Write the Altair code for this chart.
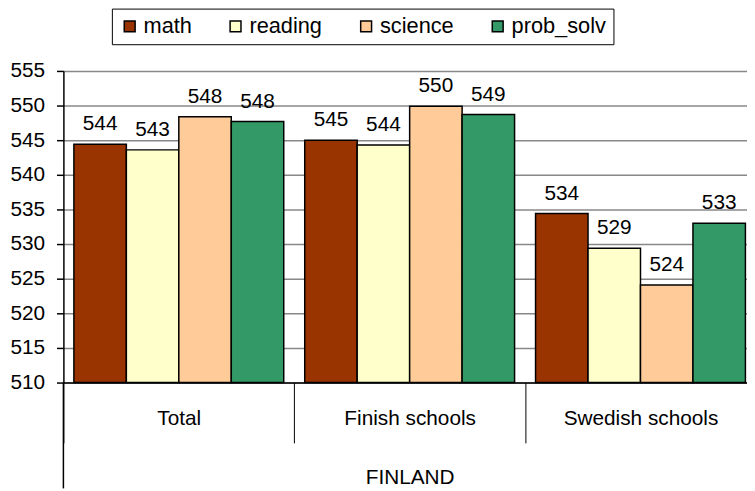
import altair as alt
import pandas as pd

groups = ["Total", "Finish schools", "Swedish schools"]
subjects = ["math", "reading", "science", "prob_solv"]
total_vals = [544.4, 543.6, 548.4, 547.7]
finish_vals = [545.0, 544.3, 549.9, 548.7]
swedish_vals = [534.4, 529.4, 524.1, 533.0]
total_labels = ["544", "543", "548", "548"]
finish_labels = ["545", "544", "550", "549"]
swedish_labels = ["534", "529", "524", "533"]
colors = ["#993300", "#FFFFCC", "#FFCC99", "#339966"]
y_ticks = [510, 515, 520, 525, 530, 535, 540, 545, 550, 555]

rows = []
for g, vals, labs in zip(groups, [total_vals, finish_vals, swedish_vals],
                         [total_labels, finish_labels, swedish_labels]):
    for s, v, l in zip(subjects, vals, labs):
        rows.append({"group": g, "subject": s, "value": v, "label": l})
df = pd.DataFrame(rows)

FONT = "Liberation Sans"
FS = 21

x_axis = alt.Axis(
    title="FINLAND",
    titleFontSize=FS,
    titleFontWeight="normal",
    titleFont=FONT,
    titleColor="black",
    titleY=96,
    titleBaseline="middle",
    labelFontSize=FS,
    labelFont=FONT,
    labelColor="black",
    labelAngle=0,
    labelBaseline="middle",
    labelPadding=-25,
    tickBand="extent",
    tickSize=61,
    tickColor="black",
    tickWidth=1,
    domainColor="black",
    domainWidth=1.5,
    grid=False,
)
x_enc = alt.X(
    "group:N",
    sort=groups,
    scale=alt.Scale(domain=groups, range=[0, 700], paddingInner=0, paddingOuter=0),
    axis=x_axis,
)
xoff_enc = alt.XOffset(
    "subject:N",
    sort=subjects,
    scale=alt.Scale(domain=subjects, paddingInner=0, paddingOuter=0.2),
)
y_scale = alt.Scale(domain=[510, 555], zero=False, nice=False)
y_axis = alt.Axis(
    title=None,
    values=y_ticks,
    labelOverlap=False,
    labelFontSize=FS,
    labelFont=FONT,
    labelColor="black",
    labelPadding=12,
    tickSize=7,
    tickColor="black",
    tickWidth=1.5,
    domainColor="black",
    domainWidth=1.5,
    grid=True,
    gridColor="#888888",
    gridWidth=1.5,
)

bars = alt.Chart(df).mark_bar(stroke="black", strokeWidth=1.5).encode(
    x=x_enc,
    xOffset=xoff_enc,
    y=alt.Y("value:Q", scale=y_scale, axis=y_axis),
    y2=alt.datum(510),
    color=alt.Color(
        "subject:N",
        sort=subjects,
        scale=alt.Scale(domain=subjects, range=colors),
        legend=alt.Legend(
            title=None,
            orient="none",
            legendX=49,
            legendY=-63,
            direction="horizontal",
            symbolType="square",
            symbolSize=121,
            symbolStrokeColor="black",
            symbolStrokeWidth=1.5,
            labelFontSize=22,
            labelFont=FONT,
            labelColor="black",
            labelOffset=3,
            columnPadding=33,
            padding=7,
            strokeColor="black",
            fillColor="white",
        ),
    ),
)

texts = alt.Chart(df).mark_text(
    baseline="alphabetic", dy=-14, fontSize=FS, font=FONT, color="black"
).encode(
    x=x_enc,
    xOffset=xoff_enc,
    y=alt.Y("value:Q", scale=y_scale, axis=y_axis),
    text="label:N",
)

ext = alt.Chart(pd.DataFrame({"a": [0]})).mark_rule(color="black", strokeWidth=1.5).encode(
    x=alt.value(0), y=alt.value(315), y2=alt.value(422)
)

chart = alt.layer(bars, texts, ext).properties(
    width=691,
    height=315,
    autosize=alt.AutoSizeParams(type="none"),
    padding={"left": 56, "top": 61, "right": 0, "bottom": 107},
).configure_view(strokeWidth=0)

chart.save("out.html", embed_options={"renderer": "svg", "actions": False})
